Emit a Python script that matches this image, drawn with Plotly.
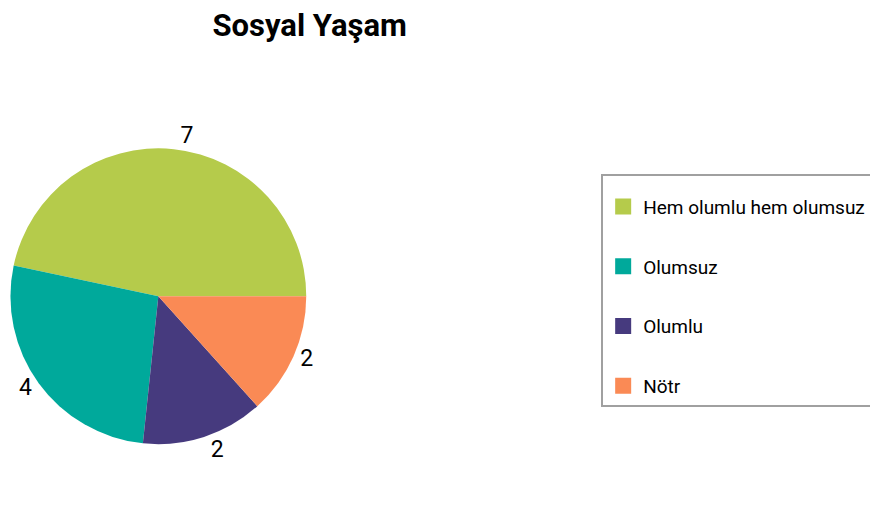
import plotly.graph_objects as go

labels = ["Hem olumlu hem olumsuz", "Olumsuz", "Olumlu", "Nötr"]
values = [7, 4, 2, 2]
colors = ["#B5CB4B", "#00A99B", "#463A7E", "#FA8A55"]
title_text = "Sosyal Yaşam"

FONT = "Roboto"

fig = go.Figure()
fig.add_trace(go.Pie(
    labels=labels, values=values, sort=False,
    direction="counterclockwise", rotation=-78,
    marker=dict(colors=colors, line=dict(width=0)),
    textinfo="value", textposition="outside",
    textfont=dict(family=FONT, size=23, color="#000000"),
    showlegend=False, hoverinfo="label+value",
    domain=dict(x=[0.012, 0.352], y=[0.02, 0.86]),
))

for lab, col in zip(labels, colors):
    fig.add_trace(go.Scatter(
        x=[None], y=[None], mode="markers", name=lab, legendgroup=lab,
        marker=dict(symbol="square", size=16, color=col),
        hoverinfo="skip",
    ))

fig.update_layout(
    width=870, height=529,
    margin=dict(l=0, r=0, t=0, b=0, autoexpand=False),
    paper_bgcolor="white", plot_bgcolor="white",
    font=dict(family=FONT, size=19, color="#000000"),
    title=dict(text="<b>" + title_text + "</b>", x=0.356, xanchor="center",
               y=0.953, yanchor="middle", font=dict(family=FONT, size=31, color="#000000")),
    xaxis=dict(visible=False), yaxis=dict(visible=False),
    legend=dict(x=0.691, y=0.671, xanchor="left", yanchor="top",
                bordercolor="#A0A0A0", borderwidth=2, bgcolor="white",
                title=dict(text=" ", font=dict(size=9)),
                tracegroupgap=32, font=dict(family=FONT, size=19, color="#000000")),
)

fig.write_html("out.html")
